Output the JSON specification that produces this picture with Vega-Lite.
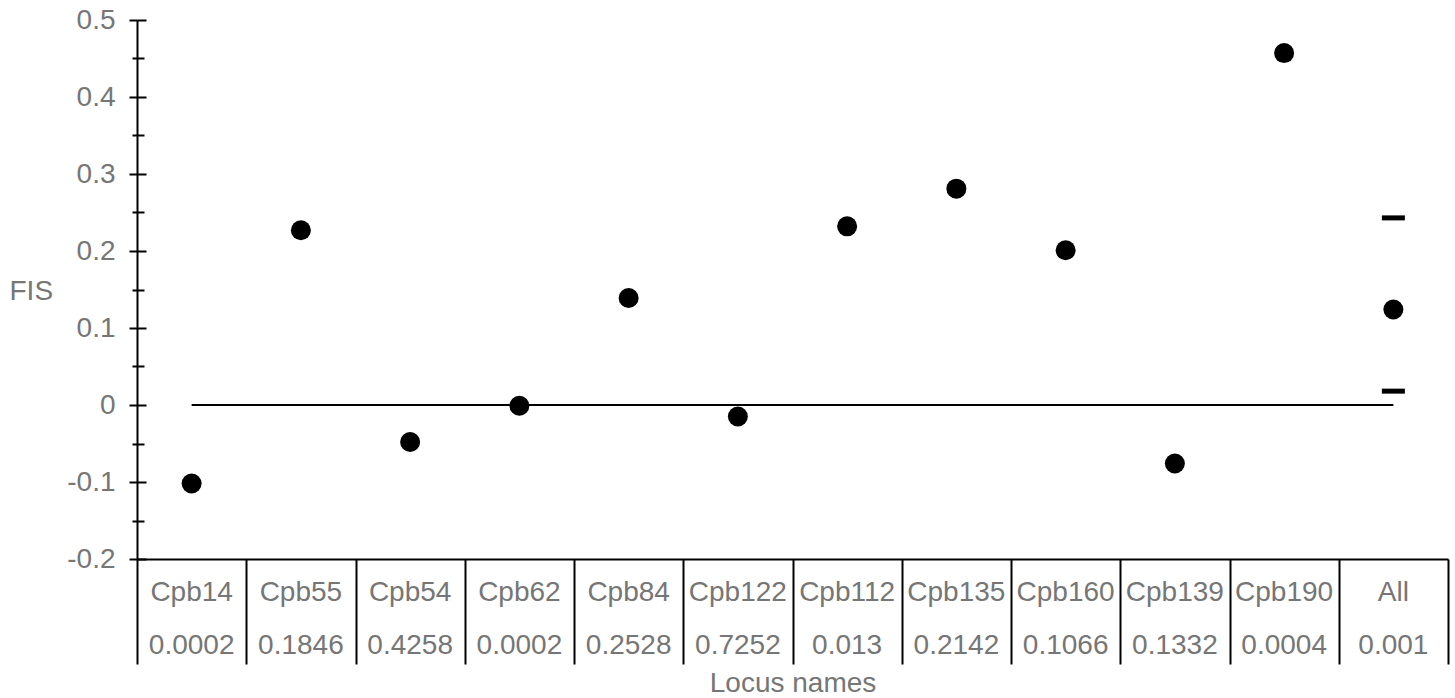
{
  "$schema": "https://vega.github.io/schema/vega-lite/v6.json",
  "background": "white",
  "padding": {"left": 9, "top": 6, "right": 7, "bottom": 0},
  "spacing": 0,
  "bounds": "flush",
  "config": {
    "view": {"stroke": null},
    "font": "Liberation Sans",
    "axis": {
      "labelFont": "Liberation Sans",
      "titleFont": "Liberation Sans",
      "labelColor": "#767676",
      "titleColor": "#767676",
      "labelFontSize": 28,
      "titleFontSize": 28,
      "titleFontWeight": "normal",
      "tickColor": "black",
      "tickWidth": 2
    }
  },
  "datasets": {
    "loci": [
      {"locus": "Cpb14", "p": "0.0002", "fis": -0.102},
      {"locus": "Cpb55", "p": "0.1846", "fis": 0.227},
      {"locus": "Cpb54", "p": "0.4258", "fis": -0.048},
      {"locus": "Cpb62", "p": "0.0002", "fis": -0.001},
      {"locus": "Cpb84", "p": "0.2528", "fis": 0.139},
      {"locus": "Cpb122", "p": "0.7252", "fis": -0.015},
      {"locus": "Cpb112", "p": "0.013", "fis": 0.232},
      {"locus": "Cpb135", "p": "0.2142", "fis": 0.281},
      {"locus": "Cpb160", "p": "0.1066", "fis": 0.201},
      {"locus": "Cpb139", "p": "0.1332", "fis": -0.076},
      {"locus": "Cpb190", "p": "0.0004", "fis": 0.457},
      {"locus": "All", "p": "0.001", "fis": 0.124, "lower": 0.018, "upper": 0.243}
    ]
  },
  "vconcat": [
    {
      "width": 1311,
      "height": 539,
      "data": {"name": "loci"},
      "resolve": {"axis": {"y": "independent"}},
      "encoding": {
        "x": {
          "field": "locus",
          "type": "nominal",
          "sort": null,
          "scale": {"type": "band", "paddingInner": 0, "paddingOuter": 0},
          "axis": {
            "labels": false,
            "ticks": false,
            "title": null,
            "domainColor": "black",
            "domainWidth": 2
          }
        }
      },
      "layer": [
        {
          "mark": {"type": "line", "color": "black", "strokeWidth": 2},
          "encoding": {
            "y": {
              "datum": 0,
              "type": "quantitative",
              "axis": {
                "orient": "left",
                "values": [-0.15, -0.05, 0.05, 0.15, 0.25, 0.35, 0.45],
                "tickSize": -7,
                "labels": false,
                "domain": false,
                "grid": false,
                "title": null
              }
            }
          }
        },
        {
          "mark": {"type": "circle", "color": "black", "opacity": 1, "size": 400},
          "encoding": {
            "y": {
              "field": "fis",
              "type": "quantitative",
              "scale": {"domain": [-0.2, 0.5], "nice": false, "zero": false},
              "axis": {
                "orient": "left",
                "values": [-0.2, -0.1, 0, 0.1, 0.2, 0.3, 0.4, 0.5],
                "labelExpr": "'' + round(datum.value * 10) / 10",
                "grid": false,
                "domainColor": "black",
                "domainWidth": 2,
                "tickSize": 8,
                "labelPadding": 14,
                "title": "FIS",
                "titleAngle": 0,
                "titleAlign": "left",
                "titleBaseline": "middle",
                "titleX": -128,
                "titleY": 271
              }
            }
          }
        },
        {
          "mark": {"type": "tick", "color": "black", "opacity": 1, "thickness": 5, "size": 23},
          "encoding": {
            "y": {
              "field": "lower",
              "type": "quantitative",
              "axis": {
                "orient": "left",
                "values": [-0.15, -0.05, 0.05, 0.15, 0.25, 0.35, 0.45],
                "tickSize": 5,
                "labels": false,
                "domain": false,
                "grid": false,
                "title": null
              }
            }
          }
        },
        {
          "mark": {"type": "tick", "color": "black", "opacity": 1, "thickness": 5, "size": 23},
          "encoding": {
            "y": {
              "field": "upper",
              "type": "quantitative",
              "axis": {
                "orient": "left",
                "values": [-0.2, -0.1, 0, 0.1, 0.2, 0.3, 0.4, 0.5],
                "tickSize": -9,
                "labels": false,
                "domain": false,
                "grid": false,
                "title": null
              }
            }
          }
        }
      ]
    },
    {
      "width": 1311,
      "height": 105,
      "data": {"name": "loci"},
      "transform": [{"fold": ["locus", "p"], "as": ["row", "cell"]}],
      "mark": {"type": "text", "font": "Liberation Sans", "fontSize": 28, "color": "#767676", "dy": 8},
      "encoding": {
        "x": {
          "field": "locus",
          "type": "nominal",
          "sort": null,
          "scale": {"type": "band", "paddingInner": 0, "paddingOuter": 0},
          "axis": {
            "grid": true,
            "gridColor": "black",
            "gridWidth": 2,
            "tickBand": "extent",
            "labels": false,
            "ticks": false,
            "domain": false,
            "title": "Locus names",
            "titlePadding": 5
          }
        },
        "y": {
          "field": "row",
          "type": "nominal",
          "sort": ["locus", "p"],
          "scale": {"type": "band", "paddingInner": 0, "paddingOuter": 0},
          "axis": null
        },
        "text": {"field": "cell"}
      }
    }
  ]
}
